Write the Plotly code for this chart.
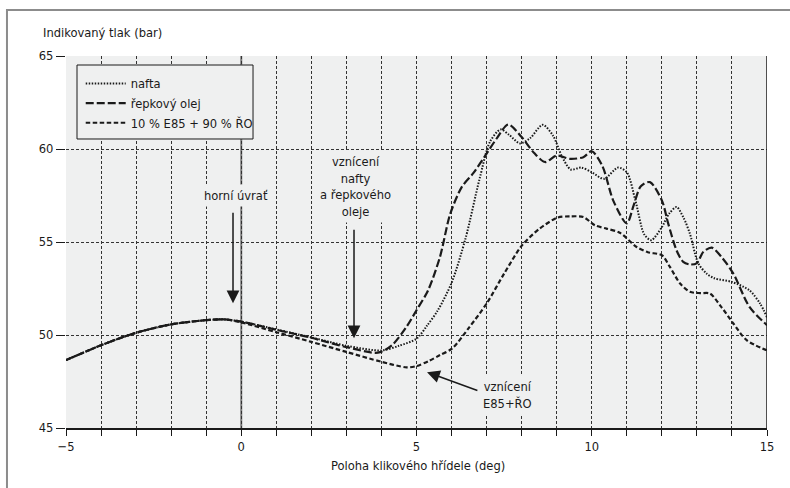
import plotly.graph_objects as go

# ---- data ----
nafta_x = [-5, -4, -3, -2, -1, -0.5, 0, 1, 2, 3, 4, 4.5, 5, 5.3, 5.6, 6, 6.4, 6.8, 7.1, 7.4,
           7.65, 7.95, 8.25, 8.6, 8.9, 9.15, 9.4, 9.7, 10, 10.35, 10.75, 11.0, 11.25, 11.5,
           11.7, 12.0, 12.2, 12.42, 12.62, 12.8, 13.04, 13.28, 13.5, 14.0, 14.5, 14.8, 15]
nafta_y = [48.65, 49.45, 50.12, 50.57, 50.8, 50.84, 50.72, 50.3, 49.87, 49.42, 49.17, 49.42,
           49.8, 50.5, 51.3, 52.8, 55.2, 58.4, 60.4, 61.05, 60.75, 60.3, 60.6, 61.3, 60.7,
           59.6, 58.9, 59.0, 58.75, 58.4, 59.0, 58.75, 57.2, 55.4, 55.1, 55.8, 56.5, 56.88,
           56.3, 55.45, 53.85, 53.3, 53.05, 52.85, 52.4, 51.7, 50.95]

olej_x = [-5, -4, -3, -2, -1, -0.5, 0, 1, 2, 3, 3.9, 4.3, 4.7, 5.0, 5.33, 5.67, 5.96, 6.29,
          6.62, 7.0, 7.3, 7.62, 8.0, 8.35, 8.67, 9.0, 9.38, 9.76, 10.0, 10.3, 10.62, 11.0,
          11.2, 11.4, 11.66, 12.0, 12.18, 12.42, 12.61, 12.8, 13.0, 13.18, 13.42, 13.7,
          14.04, 14.5, 15]
olej_y = [48.65, 49.45, 50.12, 50.57, 50.8, 50.84, 50.72, 50.28, 49.85, 49.35, 49.05, 49.45,
          50.4, 51.33, 52.4, 54.2, 56.5, 57.95, 58.7, 59.75, 60.6, 61.32, 60.64, 59.8, 59.3,
          59.65, 59.47, 59.56, 59.88, 59.1, 57.2, 56.0, 57.0, 58.0, 58.22, 57.24, 56.0, 54.55,
          53.93, 53.79, 53.87, 54.46, 54.7, 54.2, 53.3, 51.51, 50.53]

e85_x = [-5, -4, -3, -2, -1, -0.5, 0, 1, 2, 3, 4.0, 4.72, 5.0, 5.35, 5.67, 6.02, 6.5, 7.0,
         7.5, 8.01, 8.5, 9.02, 9.38, 9.76, 10.09, 10.42, 10.8, 11.28, 11.6, 12.0, 12.23,
         12.52, 12.8, 13.1, 13.37, 13.7, 14.04, 14.42, 15]
e85_y = [48.65, 49.45, 50.12, 50.57, 50.8, 50.84, 50.68, 50.15, 49.63, 49.09, 48.56, 48.26,
         48.33, 48.6, 48.92, 49.28, 50.4, 51.69, 53.3, 54.82, 55.7, 56.31, 56.38, 56.34,
         55.9, 55.72, 55.5, 54.73, 54.45, 54.29, 53.66, 52.77, 52.32, 52.25, 52.23, 51.5,
         50.62, 49.72, 49.17]

series_names = ["nafta", "řepkový olej", "10 % E85 + 90 % ŘO"]

x_range = [-5, 15]
y_range = [45, 65]
x_tickvals = [-5, 0, 5, 10, 15]
y_tickvals = [45, 50, 55, 60, 65]

# ---- styling ----
FONT = "DejaVu Sans Condensed, Liberation Sans, sans-serif"
FS = 12.8
INK = "#1a1a1a"
BG = "#eff0f0"
GRID = "#333333"

fig = go.Figure()
fig.add_trace(go.Scatter(x=nafta_x, y=nafta_y, name=series_names[0], mode="lines",
                         line=dict(color=INK, width=2, dash="1.5px,1.5px", shape="spline",
                                   smoothing=0.8)))
fig.add_trace(go.Scatter(x=olej_x, y=olej_y, name=series_names[1], mode="lines",
                         line=dict(color=INK, width=2.2, dash="8px,3px", shape="spline",
                                   smoothing=0.8)))
fig.add_trace(go.Scatter(x=e85_x, y=e85_y, name=series_names[2], mode="lines",
                         line=dict(color=INK, width=2.2, dash="4.5px,2.5px", shape="spline",
                                   smoothing=0.8)))

fig.update_layout(
    width=790, height=488,
    margin=dict(l=66, r=23, t=56, b=60),
    paper_bgcolor="white",
    plot_bgcolor=BG,
    font=dict(family=FONT, size=FS, color=INK),
    showlegend=True,
    legend=dict(x=0.021, y=0.966, xanchor="left", yanchor="top",
                bgcolor="rgba(0,0,0,0)", borderwidth=0,
                font=dict(size=FS), tracegroupgap=0, itemwidth=40),
    xaxis=dict(range=x_range, tickvals=x_tickvals, ticks="outside", ticklen=6,
               tickcolor=INK, tickwidth=1, showline=True, linecolor=INK, linewidth=1.5,
               showgrid=True, gridcolor=GRID, griddash="3px,2px", gridwidth=1,
               zeroline=False, tickfont=dict(size=FS),
               minor=dict(dtick=1, ticks="outside", ticklen=6, tickcolor=INK,
                          showgrid=True, gridcolor=GRID, griddash="3px,2px", gridwidth=1)),
    yaxis=dict(range=y_range, tickvals=y_tickvals, ticks="outside", ticklen=9,
               tickcolor=INK, tickwidth=1, showline=False,
               showgrid=True, gridcolor=GRID, griddash="3px,2px", gridwidth=1,
               zeroline=False, tickfont=dict(size=FS)),
)

# x = 0 (top dead centre) solid line and right edge
fig.add_shape(type="line", xref="x", yref="paper", x0=0, x1=0, y0=0, y1=1,
              line=dict(color="#7a7a7a", width=2), layer="below")
fig.add_shape(type="line", xref="x", yref="paper", x0=15, x1=15, y0=0, y1=1,
              line=dict(color=INK, width=1.5), layer="above")
# legend box
fig.add_shape(type="rect", xref="paper", yref="paper", x0=0.0157, x1=0.2668,
              y0=0.7769, y1=0.9758, fillcolor=BG, line=dict(color=INK, width=1),
              layer="above")
# outer frame
fig.add_shape(type="rect", xref="paper", yref="paper", x0=-0.0842, x1=1.3, y0=-0.3, y1=1.1237,
              line=dict(color="#8c8c8c", width=2), layer="above")

# axis titles
fig.add_annotation(xref="paper", yref="paper", x=-0.036, y=1.062, xanchor="left",
                   yanchor="middle", text="Indikovaný tlak (bar)", showarrow=False,
                   font=dict(size=FS))
fig.add_annotation(xref="paper", yref="paper", x=0.502, y=-0.1, xanchor="center",
                   yanchor="middle", text="Poloha klikového hřídele (deg)", showarrow=False,
                   font=dict(size=FS))

# text labels (with background that hides grid)
fig.add_annotation(x=-0.15, y=57.5, text="horní úvrať", showarrow=False, bgcolor=BG,
                   borderpad=3, font=dict(size=FS))
fig.add_annotation(x=3.25, y=58.0, text="vznícení<br>nafty<br>a řepkového<br>oleje",
                   showarrow=False, bgcolor=BG, borderpad=3, font=dict(size=FS))
fig.add_annotation(x=7.6, y=46.75, text="vznícení<br>E85+ŘO", showarrow=False,
                   bgcolor=BG, borderpad=3, font=dict(size=FS))

# arrows
for (tx, ty, ax_, ay_) in [(-0.235, 51.71, -0.235, 56.65),
                           (3.217, 49.83, 3.217, 55.74),
                           (5.30, 48.0, 6.78, 46.99)]:
    fig.add_annotation(x=tx, y=ty, ax=ax_, ay=ay_, axref="x", ayref="y", text="",
                       showarrow=True, arrowhead=2, arrowsize=1.7, arrowwidth=1.5,
                       arrowcolor=INK)

fig.write_html("out.html")
